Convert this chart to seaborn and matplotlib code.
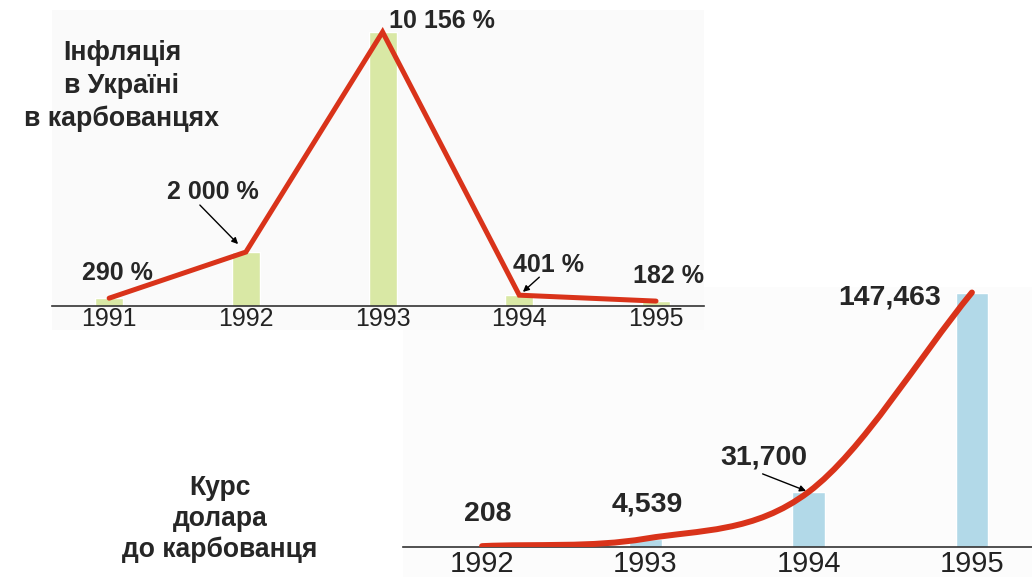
import numpy as np
import matplotlib
matplotlib.use("Agg")
import matplotlib.pyplot as plt
from matplotlib.path import Path
from matplotlib.patches import PathPatch, Rectangle
import seaborn as sns

# inflation in Ukraine, % per year
infl_years = ["1991", "1992", "1993", "1994", "1995"]
infl_values = [290, 2000, 10156, 401, 182]
infl_labels = ["290 %", "2 000 %", "10 156 %", "401 %", "182 %"]

# dollar rate in karbovanets
rate_years = ["1992", "1993", "1994", "1995"]
rate_values = [208, 4539, 31700, 147463]
rate_labels = ["208", "4,539", "31,700", "147,463"]

RED = "#d9331a"
GREEN = "#d9e8a5"
BLUE = "#b2d9e8"
AXIS = "#333333"

sns.set_style("white")
plt.rcParams["font.family"] = ["Liberation Sans", "DejaVu Sans"]

W, H = 1032, 577
fig = plt.figure(figsize=(W / 100, H / 100), dpi=100)


def box(x0, y0, x1, y1):
    # pixel box measured from top-left -> figure fraction
    return [x0 / W, 1 - y1 / H, (x1 - x0) / W, (y1 - y0) / H]


# faint panel backgrounds
for (x0, y0, x1, y1), c in [((403, 287, 1032, 577), "#fcfcfc"), ((52, 10, 704, 330), "#fafafa")]:
    b = box(x0, y0, x1, y1)
    fig.add_artist(Rectangle((b[0], b[1]), b[2], b[3], transform=fig.transFigure,
                             facecolor=c, edgecolor="none", zorder=0))

ax2 = fig.add_axes(box(403, 287, 1032, 546.5))
ax1 = fig.add_axes(box(52, 10, 704, 306))
ax1.set_zorder(3)
for ax in (ax1, ax2):
    ax.set_facecolor("none")

# ---------- inflation ----------
sns.barplot(x=infl_years, y=infl_values, color=GREEN, saturation=1, width=0.205, ax=ax1)
sns.lineplot(x=np.arange(len(infl_values)), y=infl_values, color=RED, lw=3.6, ax=ax1,
             solid_capstyle="round", solid_joinstyle="miter")
ax1.set_xlim(-0.418, 4.351)
ax1.set_ylim(0, 10156 * 296 / 274)

infl_offsets = [(8, 25), (-33, 60), (59, 11), (29, 30), (12, 25)]
for i, (v, t) in enumerate(zip(infl_values, infl_labels)):
    ax1.annotate(t, xy=(i, v), xytext=infl_offsets[i], textcoords="offset pixels",
                 ha="center", va="center", fontsize=18, fontweight="bold",
                 annotation_clip=False)

arrow = dict(arrowstyle="-|>", color="black", lw=1, shrinkA=0, mutation_scale=9)
ax1.annotate("", xy=(1, infl_values[1]), xytext=(-46, 47), textcoords="offset pixels",
             arrowprops=dict(arrow, shrinkB=8))
ax1.annotate("", xy=(3, infl_values[3]), xytext=(20, 18), textcoords="offset pixels",
             arrowprops=dict(arrow, shrinkB=3.5))

# ---------- dollar rate ----------
sns.barplot(x=rate_years, y=rate_values, color=BLUE, saturation=1, width=0.2, ax=ax2)

# smooth red curve through the values (cubic Hermite -> bezier)
xs = np.arange(len(rate_values), dtype=float)
ys = np.array(rate_values, dtype=float)
sec = np.diff(ys)
m = np.empty_like(ys)
m[0], m[-1] = sec[0], sec[-1]
m[1:-1] = (sec[:-1] + sec[1:]) / 2
verts = [(xs[0], ys[0])]
codes = [Path.MOVETO]
for i in range(len(xs) - 1):
    verts += [(xs[i] + 1 / 3, ys[i] + m[i] / 3),
              (xs[i + 1] - 1 / 3, ys[i + 1] - m[i + 1] / 3),
              (xs[i + 1], ys[i + 1])]
    codes += [Path.CURVE4] * 3
ax2.add_patch(PathPatch(Path(verts, codes), fill=False, edgecolor=RED, lw=4.3,
                        capstyle="round", zorder=3))
ax2.set_xlim(-0.484, 3.368)
ax2.set_ylim(0, 147463 * 259.5 / 254)

rate_offsets = [(6, 32), (2, 34), (-45, 34), (-82, -5)]
for i, (v, t) in enumerate(zip(rate_values, rate_labels)):
    ax2.annotate(t, xy=(i, v), xytext=rate_offsets[i], textcoords="offset pixels",
                 ha="center", va="center", fontsize=20.5, fontweight="bold",
                 annotation_clip=False)
ax2.annotate("", xy=(2, rate_values[2]), xytext=(-46, 18), textcoords="offset pixels",
             arrowprops=dict(arrow, shrinkB=2))

# ---------- axes styling ----------
for ax, fs, pad in [(ax1, 18, 0.5), (ax2, 21, 2.5)]:
    sns.despine(ax=ax, left=True)
    ax.spines["bottom"].set_color(AXIS)
    ax.spines["bottom"].set_linewidth(1.2)
    ax.set_yticks([])
    ax.set_xlabel("")
    ax.set_ylabel("")
    ax.tick_params(axis="x", length=0, pad=pad, labelsize=fs, labelcolor="#222222")

fig.text(122 / W, 1 - 86 / H, "Інфляція\nв Україні\nв карбованцях", ha="center", va="center",
         fontsize=19.3, fontweight="bold", linespacing=1.32)
fig.text(220 / W, 1 - 519 / H, "Курс\nдолара\nдо карбованця", ha="center", va="center",
         fontsize=19.1, fontweight="bold", linespacing=1.25)

fig.savefig("out.png", dpi=100)
